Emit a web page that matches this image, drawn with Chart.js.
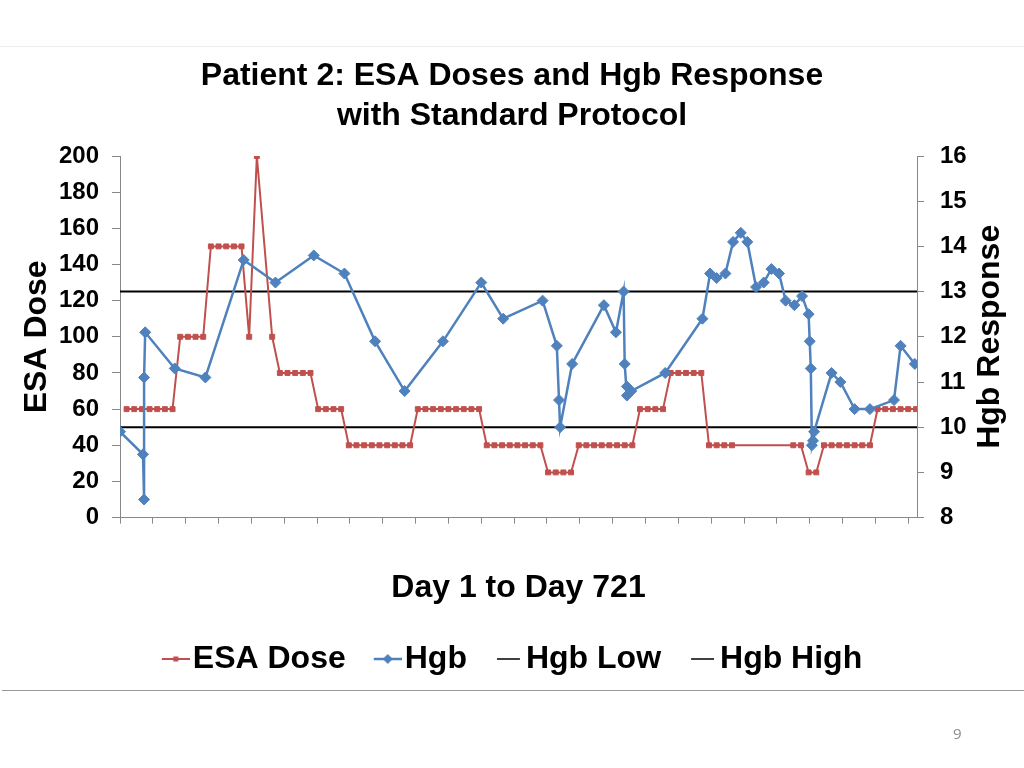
<!DOCTYPE html>
<html>
<head>
<meta charset="utf-8">
<script src="https://cdn.jsdelivr.net/npm/chart.js@4.4.1/dist/chart.umd.min.js"></script>
<style>
  body { margin: 0; background: #fff; }
  #wrap { position: relative; width: 1024px; height: 768px; }
  #wrap canvas { position: absolute; left: 0; top: 0; }
  #topline { position: absolute; left: 0; top: 46px; width: 1024px; height: 1px; background: #ececec; }
  #botline { position: absolute; left: 2px; top: 690px; width: 1022px; height: 1px; background: #999; }
  #pagenum { position: absolute; left: 953px; top: 723px; font: 15px 'Open Sans', sans-serif; color: #8a8a8a; }
</style>
</head>
<body>
<div id="wrap">
  <canvas id="chart" width="1024" height="768"></canvas>
  <div id="topline"></div>
  <div id="botline"></div>
  <div id="pagenum">9</div>
</div>
<script>
// ESA dose given weekly (day number, dose)
var esaDays = [7, 14, 21, 28, 35, 42, 49, 56, 63, 70, 77, 84, 91, 98, 105, 112, 119, 126, 140,
	147, 154, 161, 168, 175, 182, 189, 196, 203, 210, 217, 224, 231, 238, 245, 252, 259, 266,
	273, 280, 287, 294, 301, 308, 315, 322, 329, 336, 343, 350, 357, 364, 371, 378, 385,
	392, 399, 406, 413, 420, 427, 434, 441, 448, 455, 462, 469, 476, 483, 490, 497,
	504, 511, 518, 525, 532, 539, 546, 553, 560, 616, 623, 630, 637,
	644, 651, 658, 665, 672, 679, 686, 693, 700, 707, 714, 721, 728];
var esaDose = [60, 60, 60, 60, 60, 60, 60, 100, 100, 100, 100, 150, 150, 150, 150, 150, 100, 200, 100,
	80, 80, 80, 80, 80, 60, 60, 60, 60, 40, 40, 40, 40, 40, 40, 40, 40, 40,
	60, 60, 60, 60, 60, 60, 60, 60, 60, 40, 40, 40, 40, 40, 40, 40, 40,
	25, 25, 25, 25, 40, 40, 40, 40, 40, 40, 40, 40, 60, 60, 60, 60,
	80, 80, 80, 80, 80, 40, 40, 40, 40, 40, 40, 25, 25,
	40, 40, 40, 40, 40, 40, 40, 60, 60, 60, 60, 60, 60];

// Hgb measurements (day number, g/dL)
var hgbDays = [1, 22, 23, 23, 24, 51, 79, 114, 143, 178, 206, 234, 261, 296, 331, 351,
	387, 400, 402, 403, 414, 443, 454, 461, 462, 464, 464, 468, 499, 533, 540, 546,
	554, 561, 568, 574, 582, 589, 596, 603, 609, 617, 624, 630, 631, 632, 633, 634,
	635, 651, 659, 672, 686, 708, 714, 727];
var hgbValue = [9.9, 9.4, 8.4, 11.1, 12.1, 11.3, 11.1, 13.7, 13.2, 13.8, 13.4, 11.9, 10.8, 11.9, 13.2, 12.4,
	12.8, 11.8, 10.6, 10.0, 11.4, 12.7, 12.1, 13.0, 11.4, 10.7, 10.9, 10.8, 11.2, 12.4, 13.4, 13.3,
	13.4, 14.1, 14.3, 14.1, 13.1, 13.2, 13.5, 13.4, 12.8, 12.7, 12.9, 12.5, 11.9, 11.3, 9.6, 9.7,
	9.9, 11.2, 11.0, 10.4, 10.4, 10.6, 11.8, 11.4];

var hgbLow = 10;
var hgbHigh = 13;
var firstDay = 1, lastDay = 729;

var red = '#C0504D', blue = '#4F81BD';
var font = "'Liberation Sans', Arial, sans-serif";
Chart.defaults.font.family = font;
Chart.defaults.color = '#000';

function pairs (xs, ys) {
	return xs.map(function (x, i) { return {x: x, y: ys[i]}; });
}

// little legend markers: a short line with the series marker on it
function legendMarker (color, width, marker) {
	var c = document.createElement('canvas');
	c.width = 41; c.height = 14;
	var g = c.getContext('2d');
	g.strokeStyle = color; g.fillStyle = color; g.lineWidth = width;
	g.beginPath();
	if (marker) { g.moveTo(13, 7); g.lineTo(41, 7); }
	else { g.moveTo(15, 7); g.lineTo(38, 7); }
	g.stroke();
	if (marker == 'rect') g.fillRect(24.5, 4.5, 5, 5);
	if (marker == 'diamond') {
		g.beginPath(); g.moveTo(27, 2); g.lineTo(32, 7); g.lineTo(27, 12); g.lineTo(22, 7);
		g.closePath(); g.fill();
	}
	return c;
}
var markers = [legendMarker(red, 2, 'rect'), legendMarker(blue, 2.5, 'diamond'),
	legendMarker('#000', 1.5), legendMarker('#000', 1.5)];

var rightTitle = {
	id: 'rightTitle',
	afterDraw: function (chart) {
		var ctx = chart.ctx, a = chart.chartArea;
		ctx.save();
		ctx.translate(990, (a.top + a.bottom) / 2);
		ctx.rotate(-Math.PI / 2);
		ctx.font = 'bold 32px ' + font;
		ctx.fillStyle = '#000';
		ctx.textAlign = 'center';
		ctx.textBaseline = 'middle';
		ctx.fillText('Hgb Response', 0, 0);
		ctx.restore();
	}
};

new Chart(document.getElementById('chart').getContext('2d'), {
	type: 'line',
	data: {
		datasets: [{
			label: 'ESA Dose',
			data: pairs(esaDays, esaDose),
			yAxisID: 'y',
			borderColor: red, backgroundColor: red,
			borderWidth: 2, pointStyle: 'rect', pointRadius: 3.5, pointBorderWidth: 1,
			order: 2
		}, {
			label: 'Hgb',
			data: pairs(hgbDays, hgbValue),
			yAxisID: 'y2',
			borderColor: blue, backgroundColor: blue,
			borderWidth: 2.5, pointStyle: 'rectRot', pointRadius: 5.5, pointBorderWidth: 1,
			order: 1
		}, {
			label: 'Hgb Low',
			data: pairs([firstDay, lastDay], [hgbLow, hgbLow]),
			yAxisID: 'y2',
			borderColor: '#000', borderWidth: 2, pointRadius: 0,
			order: 3
		}, {
			label: 'Hgb High',
			data: pairs([firstDay, lastDay], [hgbHigh, hgbHigh]),
			yAxisID: 'y2',
			borderColor: '#000', borderWidth: 2, pointRadius: 0,
			order: 3
		}]
	},
	options: {
		responsive: false,
		animation: false,
		devicePixelRatio: 1,
		layout: { padding: { top: 0, bottom: 83, left: 0, right: 0 } },
		plugins: {
			tooltip: { enabled: false },
			title: {
				display: true,
				text: ['Patient 2: ESA Doses and Hgb Response', 'with Standard Protocol'],
				font: { size: 32, weight: 'bold', lineHeight: 1.25 },
				color: '#000',
				padding: { top: 56, bottom: 20 }
			},
			legend: {
				position: 'bottom',
				labels: {
					usePointStyle: true,
					pointStyleWidth: 15,
					padding: 28,
					color: '#000',
					font: { size: 32, weight: 'bold' },
					generateLabels: function (chart) {
						return chart.data.datasets.map(function (ds, i) {
							return { text: ds.label, pointStyle: markers[i], fillStyle: ds.borderColor,
								strokeStyle: ds.borderColor, lineWidth: 0, hidden: false, datasetIndex: i };
						});
					}
				}
			}
		},
		scales: {
			x: {
				type: 'linear', min: firstDay, max: lastDay,
				afterBuildTicks: function (s) {
					var t = [];
					for (var d = firstDay; d <= 721; d += 30) t.push({ value: d });
					s.ticks = t;
				},
				ticks: { display: false },
				grid: { drawOnChartArea: false, tickLength: 6, color: '#888' },
				border: { color: '#888' },
				title: { display: true, text: 'Day 1 to Day 721', color: '#000',
					font: { size: 32, weight: 'bold' }, padding: { top: 45, bottom: 8 } }
			},
			y: {
				position: 'left', min: 0, max: 200,
				afterFit: function (s) { s.width = 120; },
				ticks: { stepSize: 20, padding: 13, color: '#000', font: { size: 24, weight: 'bold' } },
				grid: { drawOnChartArea: false, tickLength: 8, color: '#888' },
				border: { color: '#888' },
				title: { display: true, text: 'ESA Dose', color: '#000',
					font: { size: 32, weight: 'bold' }, padding: { top: 18, bottom: 0 } }
			},
			y2: {
				position: 'right', min: 8, max: 16,
				afterFit: function (s) { s.width = 107; },
				ticks: { stepSize: 1, padding: 16, color: '#000', font: { size: 24, weight: 'bold' } },
				grid: { drawOnChartArea: false, tickLength: 7, color: '#888' },
				border: { color: '#888' }
			}
		}
	},
	plugins: [rightTitle]
});
</script>
</body>
</html>
